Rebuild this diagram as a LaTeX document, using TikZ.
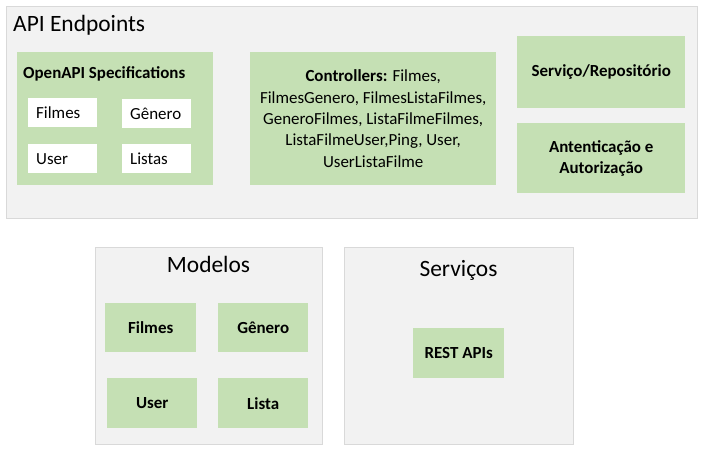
\documentclass[tikz,border=0pt]{standalone}
\usepackage{fontspec}
\setmainfont{Carlito}
\definecolor{grpfill}{HTML}{F2F2F2}
\definecolor{grpline}{HTML}{D9D9D9}
\definecolor{green}{HTML}{C5E0B4}
\begin{document}
\begin{tikzpicture}[x=1bp,y=-1bp,
  grp/.style={draw=grpline,fill=grpfill,line width=1.2bp,anchor=north west,inner sep=0pt},
  gbox/.style={fill=green,anchor=north west,inner sep=0pt,align=center,
    font=\fontsize{17}{21.5}\selectfont},
  wbox/.style={fill=white,anchor=north west,inner sep=0pt,inner xsep=8bp,
    minimum width=69bp,minimum height=29bp,text width=53bp,align=left,
    font=\fontsize{17}{21.5}\selectfont},
  gtitle/.style={font=\fontsize{23.5}{28}\selectfont,inner sep=0pt},
  hdr/.style={font=\fontsize{17}{21.5}\selectfont\bfseries,inner sep=0pt,anchor=base west}
]
\fill[white] (0,0) rectangle (705,452);
\useasboundingbox (0,0) rectangle (705,452);

% API Endpoints group
\node[grp,minimum width=691bp,minimum height=212bp] (api) at (6,6) {};
\node[gtitle,anchor=base west] (apit) at (13,32) {API Endpoints};

\node[gbox,minimum width=196bp,minimum height=133bp] (oas) at (17,52) {};
\node[hdr] (oast) at (23,79) {OpenAPI Specifications};
\node[wbox] (wf) at (28,98) {Filmes};
\node[wbox] (wg) at (122,99) {Gênero};
\node[wbox] (wu) at (28,144) {User};
\node[wbox] (wl) at (122,144) {Listas};

\node[gbox,minimum width=246bp,minimum height=133bp] (ctrl) at (250,52)
  {\textbf{Controllers:} Filmes,\\FilmesGenero, FilmesListaFilmes,\\GeneroFilmes, ListaFilmeFilmes,\\ListaFilmeUser,Ping, User,\\UserListaFilme};

\node[gbox,minimum width=168bp,minimum height=72bp,font=\fontsize{17}{21.5}\selectfont\bfseries] (serv) at (517,36) {Serviço/Repositório};
\node[gbox,minimum width=168bp,minimum height=70bp,font=\fontsize{17}{21.5}\selectfont\bfseries] (auth) at (517,123) {Antenticação e\\Autorização};

% Modelos group
\node[grp,minimum width=227bp,minimum height=197bp] (mod) at (95,247) {};
\node[gtitle,anchor=base] (modt) at (208.5,273) {Modelos};
\node[gbox,minimum width=91bp,minimum height=49bp,font=\fontsize{17}{21.5}\selectfont\bfseries] (mf) at (105,303) {Filmes};
\node[gbox,minimum width=90bp,minimum height=49bp,font=\fontsize{17}{21.5}\selectfont\bfseries] (mg) at (218,303) {Gênero};
\node[gbox,minimum width=90bp,minimum height=50bp,font=\fontsize{17}{21.5}\selectfont\bfseries] (mu) at (107,378) {User};
\node[gbox,minimum width=90bp,minimum height=50bp,font=\fontsize{17}{21.5}\selectfont\bfseries] (ml) at (218,378) {Lista};

% Servicos group
\node[grp,minimum width=229bp,minimum height=197bp] (svc) at (344,247) {};
\node[gtitle,anchor=base] (svct) at (458.5,277) {Serviços};
\node[gbox,minimum width=91bp,minimum height=50bp,font=\fontsize{17}{21.5}\selectfont\bfseries] (rest) at (413,328) {REST APIs};
\end{tikzpicture}
\end{document}
